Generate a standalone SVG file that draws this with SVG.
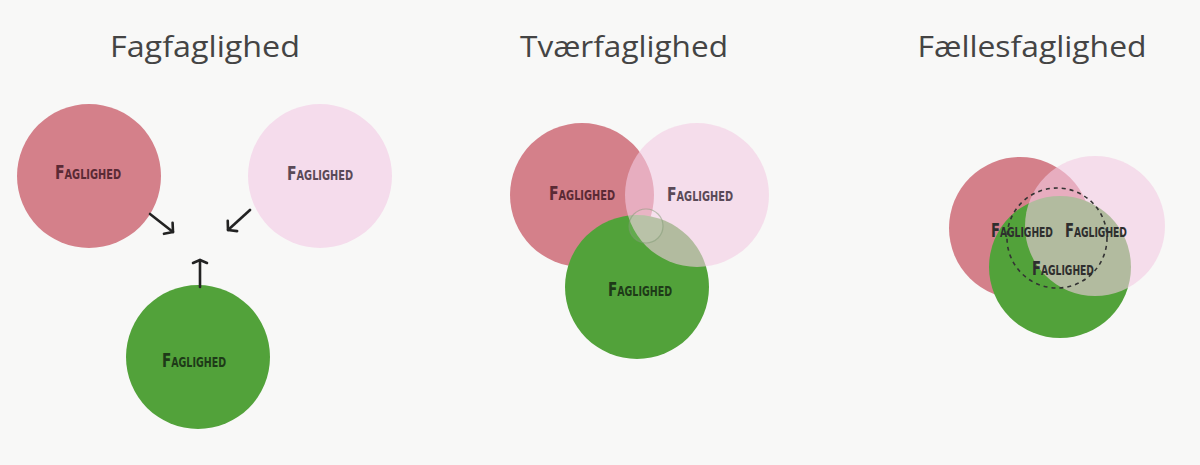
<svg xmlns="http://www.w3.org/2000/svg" width="1200" height="465" viewBox="0 0 1200 465">
  <style>
    .title { font-family: "Open Sans", "Noto Sans", sans-serif; font-size: 30px; fill: #444; text-anchor: middle; }
    .lbl { font-family: "Liberation Sans Narrow", "DejaVu Sans Condensed", "Liberation Sans", sans-serif; font-size: 20px; font-weight: bold; font-variant: small-caps; text-anchor: middle; dominant-baseline: central; }
    .red { fill: #d4808a; }
    .pink { fill: #f5dcec; }
    .green { fill: #52a23a; }
    .pinkT { fill: #f3cbe3; fill-opacity: 0.6; }
    .conn { stroke: #222; stroke-width: 2.6; fill: none; stroke-linecap: round; }
  </style>
  <defs>
    <marker id="head" viewBox="-10 -10 20 20" markerWidth="20" markerHeight="20" refX="0" refY="0" orient="auto" markerUnits="userSpaceOnUse">
      <path d="M-6,-7 L0,0 L-6,7" fill="none" stroke="#222" stroke-width="2.6" stroke-linecap="round" stroke-linejoin="round"/>
    </marker>
    <marker id="flat" viewBox="-10 -10 20 20" markerWidth="20" markerHeight="20" refX="0" refY="0" orient="auto" markerUnits="userSpaceOnUse">
      <path d="M-3,-7 L0,0 L-3,7" fill="none" stroke="#222" stroke-width="2.6" stroke-linecap="round" stroke-linejoin="round"/>
    </marker>
  </defs>
  <rect width="1200" height="465" fill="#f8f8f7"/>

  <!-- Panel 1 -->
  <text class="title" x="205" y="57" textLength="190" lengthAdjust="spacingAndGlyphs">Fagfaglighed</text>
  <g id="p1-red">
    <circle class="red" cx="89" cy="176" r="72"/>
    <text class="lbl" x="88" y="172" fill="#5a2a35" textLength="66" lengthAdjust="spacingAndGlyphs">Faglighed</text>
  </g>
  <g id="p1-pink">
    <circle class="pink" cx="320" cy="176" r="72"/>
    <text class="lbl" x="320" y="173" fill="#5a4a58" textLength="66" lengthAdjust="spacingAndGlyphs">Faglighed</text>
  </g>
  <g id="p1-green">
    <circle class="green" cx="198" cy="357" r="72"/>
    <text class="lbl" x="194" y="360" fill="#1e3a18" textLength="64" lengthAdjust="spacingAndGlyphs">Faglighed</text>
  </g>
  <g id="connectors">
    <path class="conn" d="M150,214 L173,232" marker-end="url(#head)"/>
    <path class="conn" d="M250,210 L228,230" marker-end="url(#head)"/>
    <path class="conn" d="M200,287 L200,260" marker-end="url(#flat)"/>
  </g>

  <!-- Panel 2 -->
  <text class="title" x="624" y="57" textLength="208" lengthAdjust="spacingAndGlyphs">Tværfaglighed</text>
  <g id="p2-red">
    <circle class="red" cx="582" cy="195" r="72"/>
    <text class="lbl" x="582" y="193" fill="#5a2a35" textLength="66" lengthAdjust="spacingAndGlyphs">Faglighed</text>
  </g>
  <g id="p2-green">
    <circle class="green" cx="637" cy="287" r="72"/>
    <text class="lbl" x="640" y="289" fill="#1e3a18" textLength="64" lengthAdjust="spacingAndGlyphs">Faglighed</text>
  </g>
  <g id="p2-pink">
    <circle class="pinkT" cx="697" cy="195" r="72"/>
    <text class="lbl" x="700" y="194" fill="#5a4a58" textLength="66" lengthAdjust="spacingAndGlyphs">Faglighed</text>
  </g>
  <g id="p2-core">
    <circle cx="646" cy="226" r="17" fill="#ffffff" fill-opacity="0.1" stroke="#7f9a74" stroke-opacity="0.5" stroke-width="1.2"/>
  </g>

  <!-- Panel 3 -->
  <text class="title" x="1032" y="57" textLength="229" lengthAdjust="spacingAndGlyphs">Fællesfaglighed</text>
  <g id="p3-red">
    <circle class="red" cx="1020" cy="228" r="71"/>
  </g>
  <g id="p3-green">
    <circle class="green" cx="1060" cy="267" r="71"/>
  </g>
  <g id="p3-pink">
    <circle class="pinkT" cx="1095" cy="226" r="70"/>
  </g>
  <g id="p3-core">
    <circle cx="1057" cy="238" r="50" fill="none" stroke="#333" stroke-width="1.6" stroke-dasharray="4 4"/>
  </g>
  <g id="p3-labels">
    <text class="lbl" x="1022" y="230" fill="#2e2e2e" textLength="62" lengthAdjust="spacingAndGlyphs">Faglighed</text>
    <text class="lbl" x="1096" y="230" fill="#2e2e2e" textLength="62" lengthAdjust="spacingAndGlyphs">Faglighed</text>
    <text class="lbl" x="1063" y="268" fill="#2e2e2e" textLength="62" lengthAdjust="spacingAndGlyphs">Faglighed</text>
  </g>
</svg>
